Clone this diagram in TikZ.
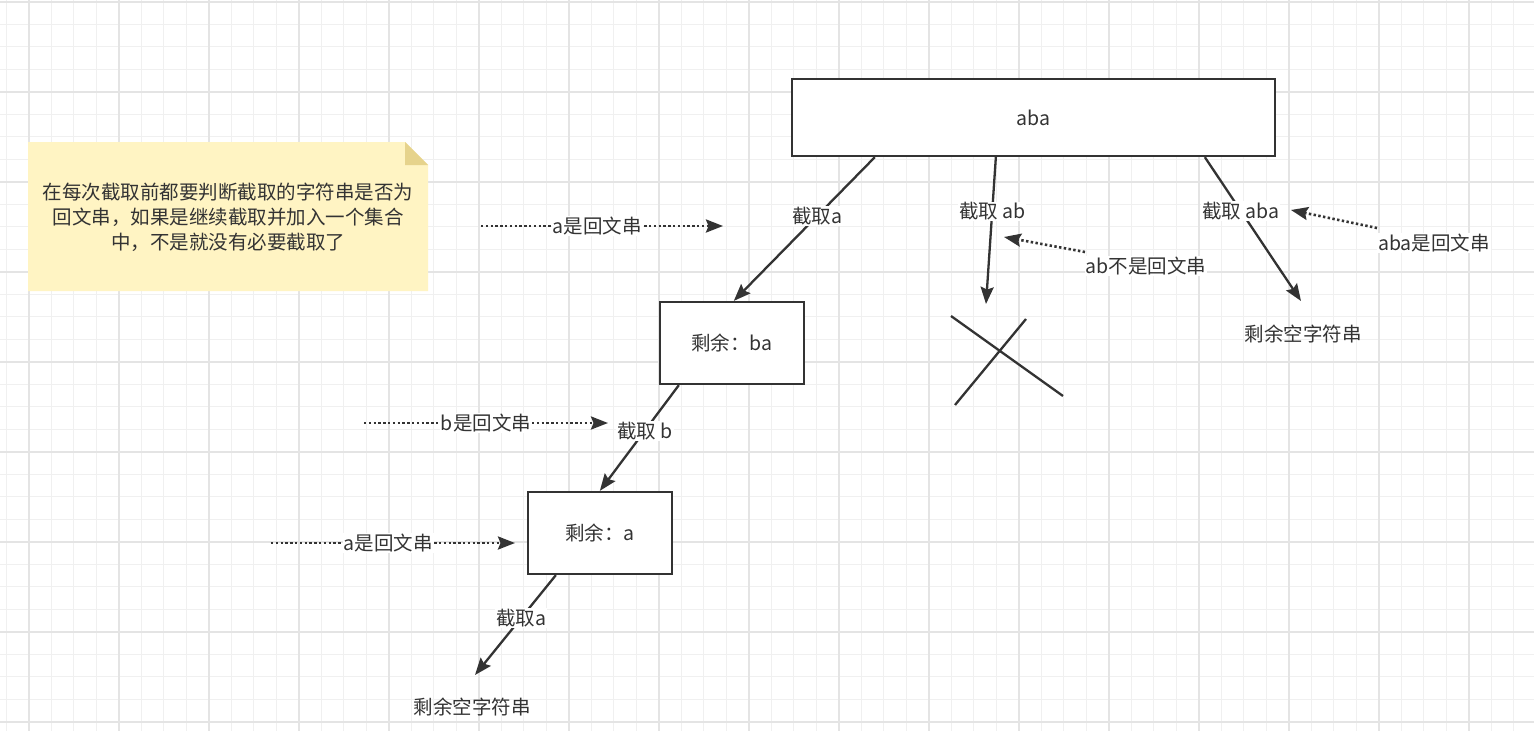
\documentclass[tikz,border=0pt]{standalone}
\usepackage{fontspec}
\setmainfont{Noto Sans CJK SC}
\usetikzlibrary{arrows.meta,calc}
\definecolor{ink}{HTML}{333333}
\definecolor{gridminor}{HTML}{F0F0F0}
\definecolor{gridmajor}{HTML}{E4E4E4}
\definecolor{notefill}{HTML}{FFF4C3}
\definecolor{notefold}{HTML}{E6D38C}
\tikzset{
  txt/.style={text=ink,font=\fontsize{19.5}{25}\selectfont,inner sep=1pt},
  lbl/.style={txt,fill=white},
  box/.style={draw=ink,line width=2.3pt,fill=white,txt},
  edge/.style={draw=ink,line width=2.3pt,-{Stealth[length=17pt,width=13pt,inset=2.5pt]}},
  dotedge/.style={draw=ink,line width=2.6pt,dash pattern=on 2.4pt off 2.4pt,-{Stealth[length=17pt,width=13pt,inset=2.5pt]}},
  minorline/.style={draw=gridminor,line width=1.2pt},
  majorline/.style={draw=gridmajor,line width=1.6pt},
  crossline/.style={draw=ink,line width=2.3pt}
}
\begin{document}
\begin{tikzpicture}[x=1pt,y=-1pt]
\useasboundingbox (0,0) rectangle (1534,731);
\fill[white] (0,0) rectangle (1534,731);
% grid
\foreach \i in {0,...,68} \draw[minorline] ({6.2+22.5*\i},0) -- ({6.2+22.5*\i},731);
\foreach \i in {0,...,32} \draw[minorline] (0,{1.7+22.5*\i}) -- (1534,{1.7+22.5*\i});
\foreach \i in {0,...,16} \draw[majorline] ({28.7+90*\i},0) -- ({28.7+90*\i},731);
\foreach \i in {0,...,8} \draw[majorline] (0,{1.7+90*\i}) -- (1534,{1.7+90*\i});

% note
\fill[notefill] (28,142) -- (405,142) -- (428,165) -- (428,291) -- (28,291) -- cycle;
\fill[notefold] (405,142) -- (428,165) -- (405,165) -- cycle;
\node[txt,align=center] (note) at (228,217) {在每次截取前都要判断截取的字符串是否为\\回文串，如果是继续截取并加入一个集合\\中，不是就没有必要截取了};

% boxes
\node[box,minimum width=483pt,minimum height=77pt] (aba) at (1033.5,117.5) {aba};
\node[box,minimum width=144pt,minimum height=82pt] (ba) at (732,343) {剩余：ba};
\node[box,minimum width=144pt,minimum height=82pt] (a) at (600,533) {剩余：a};

% terminals
\node[txt] (rest1) at (1303,334) {剩余空字符串};
\node[txt] (rest2) at (472,707) {剩余空字符串};
\coordinate (xtop) at (986,304);
\coordinate (rest1top) at (1301,301);
\coordinate (rest2top) at (475,675);

% cross
\coordinate (c1a) at (951,316);
\coordinate (c1b) at (1063,396);
\coordinate (c2a) at (1026,319);
\coordinate (c2b) at (955,405);
\draw[crossline] (c1a) -- (c1b);
\draw[crossline] (c2a) -- (c2b);

% solid edges
\draw[edge] ([xshift=84pt]aba.south west) -- ([xshift=75pt]ba.north west) node[lbl,pos=0.41] {截取a};
\draw[edge] ([xshift=205pt]aba.south west) -- (xtop) node[lbl,pos=0.37] {截取 ab};
\draw[edge] ([xshift=414pt]aba.south west) -- (rest1top) node[lbl,pos=0.375] {截取 aba};
\draw[edge] ([xshift=20pt]ba.south west) -- ([xshift=73pt]a.north west) node[lbl,pos=0.43] {截取 b};
\draw[edge] ([xshift=29pt]a.south west) -- (rest2top) node[lbl,pos=0.43] {截取a};

% dotted edges
\coordinate (d1s) at (481,226);
\coordinate (d1e) at (723,226);
\draw[dotedge] (d1s) -- (d1e) node[lbl,pos=0.48] {a是回文串};
\coordinate (d2s) at (364,423);
\coordinate (d2e) at (608,423);
\draw[dotedge] (d2s) -- (d2e) node[lbl,pos=0.5] {b是回文串};
\coordinate (d3s) at (271,543);
\coordinate (d3e) at (515,543);
\draw[dotedge] (d3s) -- (d3e) node[lbl,pos=0.48] {a是回文串};

\node[lbl] (nab) at (1146,266) {ab不是回文串};
\coordinate (nabs) at (1085,252);
\coordinate (nabe) at (1004,237);
\draw[dotedge] (nabs) -- (nabe);
\node[lbl] (naba) at (1434,243) {aba是回文串};
\coordinate (nabas) at (1377,228);
\coordinate (nabae) at (1291,210);
\draw[dotedge] (nabas) -- (nabae);
\end{tikzpicture}
\end{document}
